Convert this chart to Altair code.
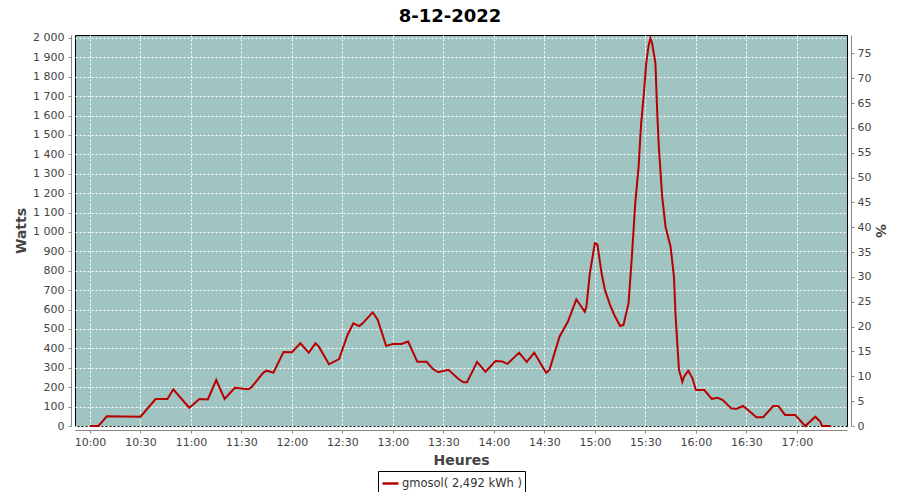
import altair as alt
import pandas as pd

times = ["10:00:00", "10:05:00", "10:10:00", "10:30:00", "10:39:00", "10:46:00", "10:49:30", "10:59:00",
         "11:05:00", "11:10:00", "11:15:00", "11:20:00", "11:26:00", "11:34:00", "11:36:00", "11:43:00",
         "11:45:00", "11:49:00", "11:55:00", "12:00:00", "12:05:00", "12:10:00", "12:14:00", "12:16:00",
         "12:22:00", "12:28:00", "12:33:00", "12:36:30", "12:40:00", "12:42:00", "12:48:00", "12:51:00",
         "12:56:00", "13:00:00", "13:05:00", "13:09:00", "13:14:30", "13:20:00", "13:24:00", "13:27:00",
         "13:33:00", "13:39:00", "13:42:00", "13:44:00", "13:50:00", "13:55:00", "14:01:00", "14:05:00",
         "14:08:00", "14:15:00", "14:19:30", "14:24:00", "14:31:00", "14:33:00", "14:39:00", "14:44:00",
         "14:49:00", "14:54:00", "14:55:00", "14:57:00", "15:00:00", "15:01:30", "15:04:00", "15:06:00",
         "15:09:00", "15:12:00", "15:15:00", "15:17:00", "15:20:00", "15:22:00", "15:24:00", "15:26:00",
         "15:27:30", "15:29:00", "15:30:30", "15:32:00", "15:33:00", "15:34:00", "15:36:00", "15:37:00",
         "15:38:00", "15:40:00", "15:42:00", "15:45:00", "15:47:00", "15:48:00", "15:49:00", "15:50:00",
         "15:52:00", "15:53:00", "15:55:30", "15:58:00", "16:00:00", "16:02:00", "16:05:00", "16:09:30",
         "16:13:00", "16:16:00", "16:21:00", "16:24:00", "16:28:00", "16:31:00", "16:36:00", "16:40:00",
         "16:46:00", "16:49:00", "16:53:00", "16:59:00", "17:05:00", "17:11:00", "17:14:00", "17:15:00",
         "17:20:00"]
watts = [0, 0, 50, 48, 139, 139, 189, 94,
         139, 137, 237, 139, 197, 189, 200, 275,
         285, 275, 381, 380, 426, 378, 426, 409,
         318, 345, 469, 529, 515, 529, 586, 546,
         412, 423, 423, 435, 331, 331, 292, 277,
         290, 242, 225, 225, 330, 280, 335, 333,
         320, 378, 330, 378, 275, 289, 460, 538,
         653, 589, 615, 787, 942, 936, 787, 701,
         624, 564, 515, 521, 632, 873, 1148, 1337,
         1560, 1697, 1869, 1964, 1998, 1972, 1869, 1629,
         1440, 1182, 1027, 924, 770, 564, 426, 289,
         228, 254, 285, 246, 186, 185, 185, 140,
         145, 134, 91, 88, 103, 82, 45, 45,
         103, 103, 57, 57, 0, 48, 22, 0,
         0]
series = ["gmosol( 2,492 kWh )"]
watt_ticks = list(range(0, 2001, 100))
pct_ticks = list(range(0, 76, 5))
hour_ticks = [(10, 0), (10, 30), (11, 0), (11, 30), (12, 0), (12, 30), (13, 0), (13, 30),
              (14, 0), (14, 30), (15, 0), (15, 30), (16, 0), (16, 30), (17, 0)]

df = pd.DataFrame({"t": ["2022-12-08T" + t for t in times], "w": watts, "s": series[0]})
pct_df = pd.DataFrame({"p": pct_ticks})


def dt(h, m, s=0):
    return alt.DateTime(year=2022, month=12, date=8, hours=h, minutes=m, seconds=s)


axis_common = dict(labelFont="DejaVu Sans", labelFontSize=11, labelColor="#444444",
                   domainColor="#888888", tickColor="#888888", tickSize=3,
                   titleFont="DejaVu Sans", titleFontSize=14, titleFontWeight="bold",
                   titleColor="#444444", offset=4)

line = alt.Chart(df).mark_line(strokeWidth=2).encode(
    x=alt.X("t:T",
            scale=alt.Scale(domain=[dt(9, 51, 5), dt(17, 29, 50)]),
            axis=alt.Axis(values=[dt(h, m) for h, m in hour_ticks], format="%H:%M",
                          title="Heures", grid=True, gridColor="white", gridDash=[2, 2],
                          gridOpacity=1, labelPadding=3, titlePadding=6, **axis_common)),
    y=alt.Y("w:Q",
            scale=alt.Scale(domain=[0, 2015], nice=False, zero=True),
            axis=alt.Axis(values=watt_ticks,
                          labelExpr="replace(format(datum.value, ','), ',', ' ')",
                          title="Watts", grid=True, gridColor="white", gridDash=[2, 2],
                          gridOpacity=1, labelPadding=4, titlePadding=4, **axis_common)),
    color=alt.Color("s:N", scale=alt.Scale(domain=series, range=["#b80000"]),
                    legend=alt.Legend(title=None, orient="none", legendX=303, legendY=436,
                                      symbolType="stroke", symbolStrokeWidth=2.5, symbolSize=256,
                                      labelFont="DejaVu Sans", labelFontSize=11.5, labelColor="#333333",
                                      strokeColor="#000000", fillColor="white", padding=3,
                                      labelOffset=2)),
)

right = alt.Chart(pct_df).mark_point(opacity=0).encode(
    y=alt.Y("p:Q",
            scale=alt.Scale(domain=[0, 78.7], nice=False),
            axis=alt.Axis(orient="right", values=pct_ticks, title="%", grid=False,
                          labelPadding=3, titlePadding=2, **axis_common)),
)

chart = alt.layer(line, right).resolve_scale(y="independent").properties(
    width=772, height=391,
    background="white",
    autosize=alt.AutoSizeParams(type="none"),
    padding={"left": 67, "top": 27, "right": 45, "bottom": 66},
    title=alt.TitleParams("8-12-2022", fontSize=18, font="DejaVu Sans", fontWeight="bold",
                          color="#000000", offset=6, dx=-11, anchor="middle"),
).configure_view(
    stroke="#000000", strokeWidth=1, fill="#a0c4c2"
)

chart.save("out.html", embed_options={"renderer": "svg", "actions": False})
